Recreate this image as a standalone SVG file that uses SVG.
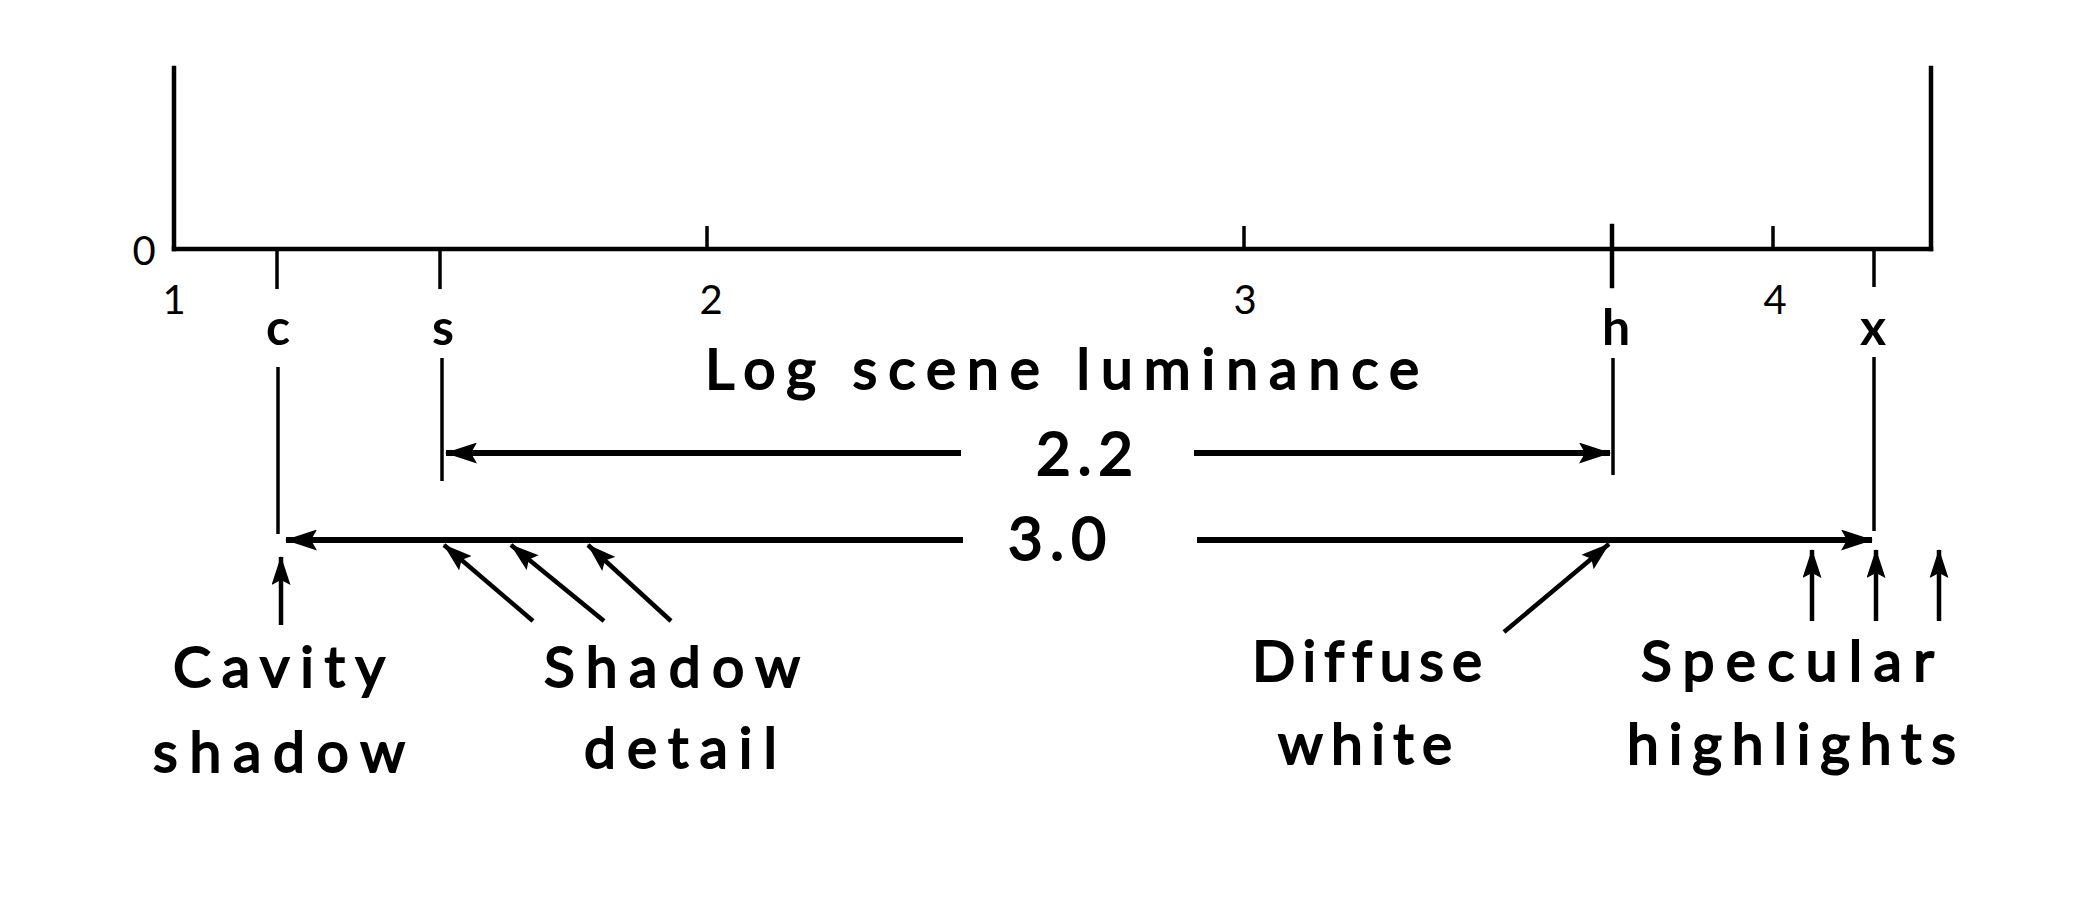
<svg xmlns="http://www.w3.org/2000/svg" width="2100" height="900" viewBox="0 0 2100 900">
  <defs>
    <marker id="ah" markerUnits="userSpaceOnUse" markerWidth="32" markerHeight="21" viewBox="0 0 32 21" refX="31" refY="10.5" orient="auto">
      <path d="M0,0 L32,10.5 L0,21 L6,10.5 z" fill="#000"/>
    </marker>
    <marker id="ahs" markerUnits="userSpaceOnUse" markerWidth="29" markerHeight="19" viewBox="0 0 29 19" refX="28" refY="9.5" orient="auto">
      <path d="M0,0 L29,9.5 L0,19 L5,9.5 z" fill="#000"/>
    </marker>
    <style>
      .ax { stroke:#000; stroke-width:4.5; fill:none; stroke-linecap:square; }
      .tk { stroke:#000; stroke-width:3.5; fill:none; }
      .dim { stroke:#000; stroke-width:6; fill:none; }
      .ptr { stroke:#000; stroke-width:4.5; fill:none; }
      .num { font-family:Lato, "Liberation Sans", sans-serif; font-weight:normal; font-size:40px; fill:#000; text-anchor:middle; }
      .let { font-family:Lato, "Liberation Sans", sans-serif; font-weight:bold; font-size:50px; fill:#000; text-anchor:middle; }
      .lbl { font-family:Lato, "Liberation Sans", sans-serif; font-size:57px; fill:#000; stroke:#000; stroke-width:2; font-variant-ligatures:none; }
      .big { font-family:Lato, "Liberation Sans", sans-serif; font-size:60px; fill:#000; stroke:#000; stroke-width:2; }
    </style>
  </defs>
  <rect width="2100" height="900" fill="#fff"/>

  <g id="axes">
    <line class="ax" x1="174" y1="68" x2="174" y2="249"/>
    <line class="ax" x1="1931" y1="68" x2="1931" y2="249"/>
    <line class="ax" x1="174" y1="249" x2="1931" y2="249"/>
    <line class="tk" x1="707" y1="226" x2="707" y2="249"/>
    <line class="tk" x1="1244" y1="226" x2="1244" y2="249"/>
    <line class="tk" x1="1773" y1="226" x2="1773" y2="249"/>
    <line class="ax" x1="1612" y1="226" x2="1612" y2="286"/>
    <line class="tk" x1="277" y1="249" x2="277" y2="289"/>
    <line class="tk" x1="440" y1="249" x2="440" y2="289"/>
    <line class="tk" x1="1874" y1="249" x2="1874" y2="287"/>
  </g>

  <g id="axis-numbers">
    <text class="num" x="144" y="265">0</text>
    <text class="num" x="174" y="314">1</text>
    <text class="num" x="711" y="314">2</text>
    <text class="num" x="1245" y="314">3</text>
    <text class="num" x="1775" y="314">4</text>
  </g>

  <g id="point-letters">
    <text class="let" x="278" y="345">c</text>
    <text class="let" x="443" y="345">s</text>
    <text class="let" x="1616" y="345">h</text>
    <text class="let" x="1873" y="345">x</text>
  </g>

  <g id="axis-title">
    <text class="lbl" x="705" y="389" font-size="48" textLength="714" lengthAdjust="spacing">Log scene luminance</text>
  </g>

  <g id="connectors">
    <line class="tk" x1="278" y1="367" x2="278" y2="534"/>
    <line class="tk" x1="442" y1="358" x2="442" y2="481"/>
    <line class="tk" x1="1613" y1="358" x2="1613" y2="475"/>
    <line class="tk" x1="1874" y1="357" x2="1874" y2="531"/>
    <line class="dim" x1="961" y1="453" x2="446" y2="453" marker-end="url(#ah)"/>
    <line class="dim" x1="1194" y1="453" x2="1610" y2="453" marker-end="url(#ah)"/>
    <line class="dim" x1="963" y1="540" x2="286" y2="540" marker-end="url(#ah)"/>
    <line class="dim" x1="1197" y1="540" x2="1872" y2="540" marker-end="url(#ah)"/>
    <line class="ptr" x1="281" y1="625" x2="281" y2="557" marker-end="url(#ahs)"/>
    <line class="ptr" x1="533" y1="621" x2="444" y2="545" marker-end="url(#ahs)"/>
    <line class="ptr" x1="604" y1="621" x2="511" y2="545" marker-end="url(#ahs)"/>
    <line class="ptr" x1="671" y1="621" x2="588" y2="545" marker-end="url(#ahs)"/>
    <line class="ptr" x1="1504" y1="632" x2="1609" y2="544" marker-end="url(#ahs)"/>
    <line class="ptr" x1="1812" y1="621" x2="1812" y2="550" marker-end="url(#ahs)"/>
    <line class="ptr" x1="1876" y1="621" x2="1876" y2="550" marker-end="url(#ahs)"/>
    <line class="ptr" x1="1939" y1="621" x2="1939" y2="550" marker-end="url(#ahs)"/>
  </g>

  <g id="range-22">
    <text class="big" x="1036" y="475" textLength="97" lengthAdjust="spacing">2.2</text>
  </g>
  <g id="range-30">
    <text class="big" x="1008" y="560" textLength="98" lengthAdjust="spacing">3.0</text>
  </g>

  <g id="cavity-shadow">
    <text class="lbl" x="173" y="687" textLength="212" lengthAdjust="spacing">Cavity</text>
    <text class="lbl" x="153" y="772" textLength="252" lengthAdjust="spacing">shadow</text>
  </g>
  <g id="shadow-detail">
    <text class="lbl" x="544" y="687" textLength="256" lengthAdjust="spacing">Shadow</text>
    <text class="lbl" x="584" y="768" textLength="193" lengthAdjust="spacing">detail</text>
  </g>
  <g id="diffuse-white">
    <text class="lbl" x="1252" y="681" textLength="230" lengthAdjust="spacing">Diffuse</text>
    <text class="lbl" x="1278" y="764" textLength="174" lengthAdjust="spacing">white</text>
  </g>
  <g id="specular-highlights">
    <text class="lbl" x="1641" y="681" textLength="293" lengthAdjust="spacing">Specular</text>
    <text class="lbl" x="1627" y="764" textLength="329" lengthAdjust="spacing">highlights</text>
  </g>
</svg>
